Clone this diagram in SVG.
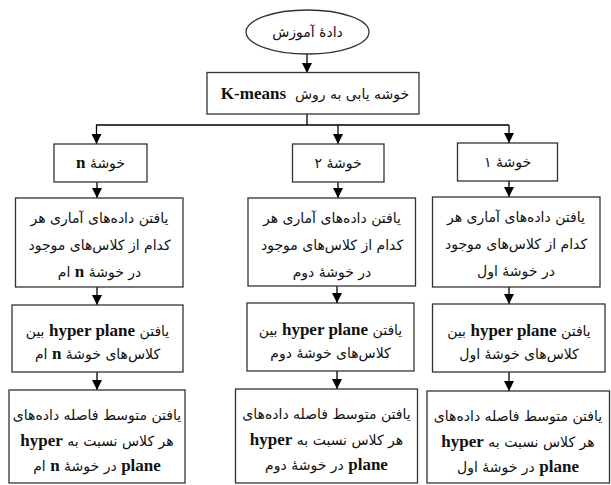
<svg xmlns="http://www.w3.org/2000/svg" width="611" height="485" viewBox="0 0 611 485">
<defs>
<marker id="ah" viewBox="0 0 10 10" refX="10" refY="5" markerWidth="10" markerHeight="10" markerUnits="userSpaceOnUse" orient="auto">
<path d="M0,0 L10,5 L0,10 z" fill="#000"/>
</marker>
<style>
.box{fill:#fff;stroke:#333;stroke-width:1.3}
.t{font-family:'DejaVu Sans','Liberation Serif',sans-serif;font-size:14px;fill:#111;text-anchor:middle;direction:rtl}
.l{font-family:'Liberation Serif',serif;font-weight:bold;font-size:17px}
.c{fill:none;stroke:#000;stroke-width:1.3}
.a{fill:none;stroke:#000;stroke-width:1.3;marker-end:url(#ah)}
</style>
</defs>
<rect width="611" height="485" fill="#fff"/>
<g id="connectors">
<path class="a" d="M307,54 V73"/>
<path class="c" d="M307,114 V125 M96,125 H509"/>
<path class="a" d="M96.5,125 V144"/>
<path class="a" d="M338,125 V144"/>
<path class="a" d="M509,125 V143"/>
<path class="a" d="M97,182 V198"/>
<path class="a" d="M338,182 V198"/>
<path class="a" d="M509,181 V197"/>
<path class="a" d="M97,287 V305"/>
<path class="a" d="M337,286 V303"/>
<path class="a" d="M509,287 V304"/>
<path class="a" d="M97,372 V390"/>
<path class="a" d="M337,371 V389"/>
<path class="a" d="M509,372 V391"/>
</g>
<g id="train-data">
<ellipse class="box" cx="307.5" cy="32" rx="61.5" ry="22"/>
<text class="t" x="307.5" y="37">دادهٔ آموزش</text>
</g>
<g id="kmeans">
<rect class="box" x="207" y="72.5" width="212" height="41.5"/>
<text class="t" x="315" y="99">خوشه یابی به روش&#160;&#160;<tspan class="l">K-means</tspan></text>
</g>
<g id="cluster-n">
<rect class="box" x="54" y="144" width="93" height="38"/>
<text class="t" x="100.5" y="168">خوشهٔ <tspan class="l">n</tspan></text>
</g>
<g id="cluster-2">
<rect class="box" x="292.5" y="144" width="91.5" height="38"/>
<text class="t" x="338" y="168">خوشهٔ ۲</text>
</g>
<g id="cluster-1">
<rect class="box" x="457.5" y="143" width="100" height="38"/>
<text class="t" x="507.5" y="167">خوشهٔ ۱</text>
</g>
<g id="data-n">
<rect class="box" x="15.5" y="198" width="167.5" height="89"/>
<text class="t" x="99.5" y="223">یافتن داده‌های آماری هر</text>
<text class="t" x="99.5" y="250">کدام از کلاس‌های موجود</text>
<text class="t" x="99.5" y="277">در خوشهٔ <tspan class="l">n</tspan> ام</text>
</g>
<g id="data-2">
<rect class="box" x="248" y="198" width="167.5" height="88"/>
<text class="t" x="332" y="223">یافتن داده‌های آماری هر</text>
<text class="t" x="332" y="250">کدام از کلاس‌های موجود</text>
<text class="t" x="332" y="277">در خوشهٔ دوم</text>
</g>
<g id="data-1">
<rect class="box" x="432.5" y="197" width="167.5" height="90"/>
<text class="t" x="516" y="222">یافتن داده‌های آماری هر</text>
<text class="t" x="516" y="249">کدام از کلاس‌های موجود</text>
<text class="t" x="516" y="276">در خوشهٔ اول</text>
</g>
<g id="hyper-n">
<rect class="box" x="12" y="305" width="171" height="67"/>
<text class="t" x="97.5" y="336">یافتن <tspan class="l">hyper plane</tspan> بین</text>
<text class="t" x="97.5" y="359">کلاس‌های خوشهٔ <tspan class="l">n</tspan> ام</text>
</g>
<g id="hyper-2">
<rect class="box" x="247" y="303" width="167" height="68"/>
<text class="t" x="330.5" y="335">یافتن <tspan class="l">hyper plane</tspan> بین</text>
<text class="t" x="330.5" y="358">کلاس‌های خوشهٔ دوم</text>
</g>
<g id="hyper-1">
<rect class="box" x="432.5" y="304" width="172.5" height="68"/>
<text class="t" x="519" y="336">یافتن <tspan class="l">hyper plane</tspan> بین</text>
<text class="t" x="519" y="359">کلاس‌های خوشهٔ اول</text>
</g>
<g id="dist-n">
<rect class="box" x="9" y="390" width="176" height="93"/>
<text class="t" x="97" y="420">یافتن متوسط فاصله داده‌های</text>
<text class="t" x="97" y="446">هر کلاس نسبت به <tspan class="l">hyper</tspan></text>
<text class="t" x="97" y="471"><tspan class="l">plane</tspan> در خوشهٔ <tspan class="l">n</tspan> ام</text>
</g>
<g id="dist-2">
<rect class="box" x="235.5" y="389" width="182" height="94"/>
<text class="t" x="326.5" y="419">یافتن متوسط فاصله داده‌های</text>
<text class="t" x="326.5" y="445">هر کلاس نسبت به <tspan class="l">hyper</tspan></text>
<text class="t" x="326.5" y="470"><tspan class="l">plane</tspan> در خوشهٔ دوم</text>
</g>
<g id="dist-1">
<rect class="box" x="427" y="391" width="182.5" height="92"/>
<text class="t" x="518" y="421">یافتن متوسط فاصله داده‌های</text>
<text class="t" x="518" y="447">هر کلاس نسبت به <tspan class="l">hyper</tspan></text>
<text class="t" x="518" y="472"><tspan class="l">plane</tspan> در خوشهٔ اول</text>
</g>
</svg>
